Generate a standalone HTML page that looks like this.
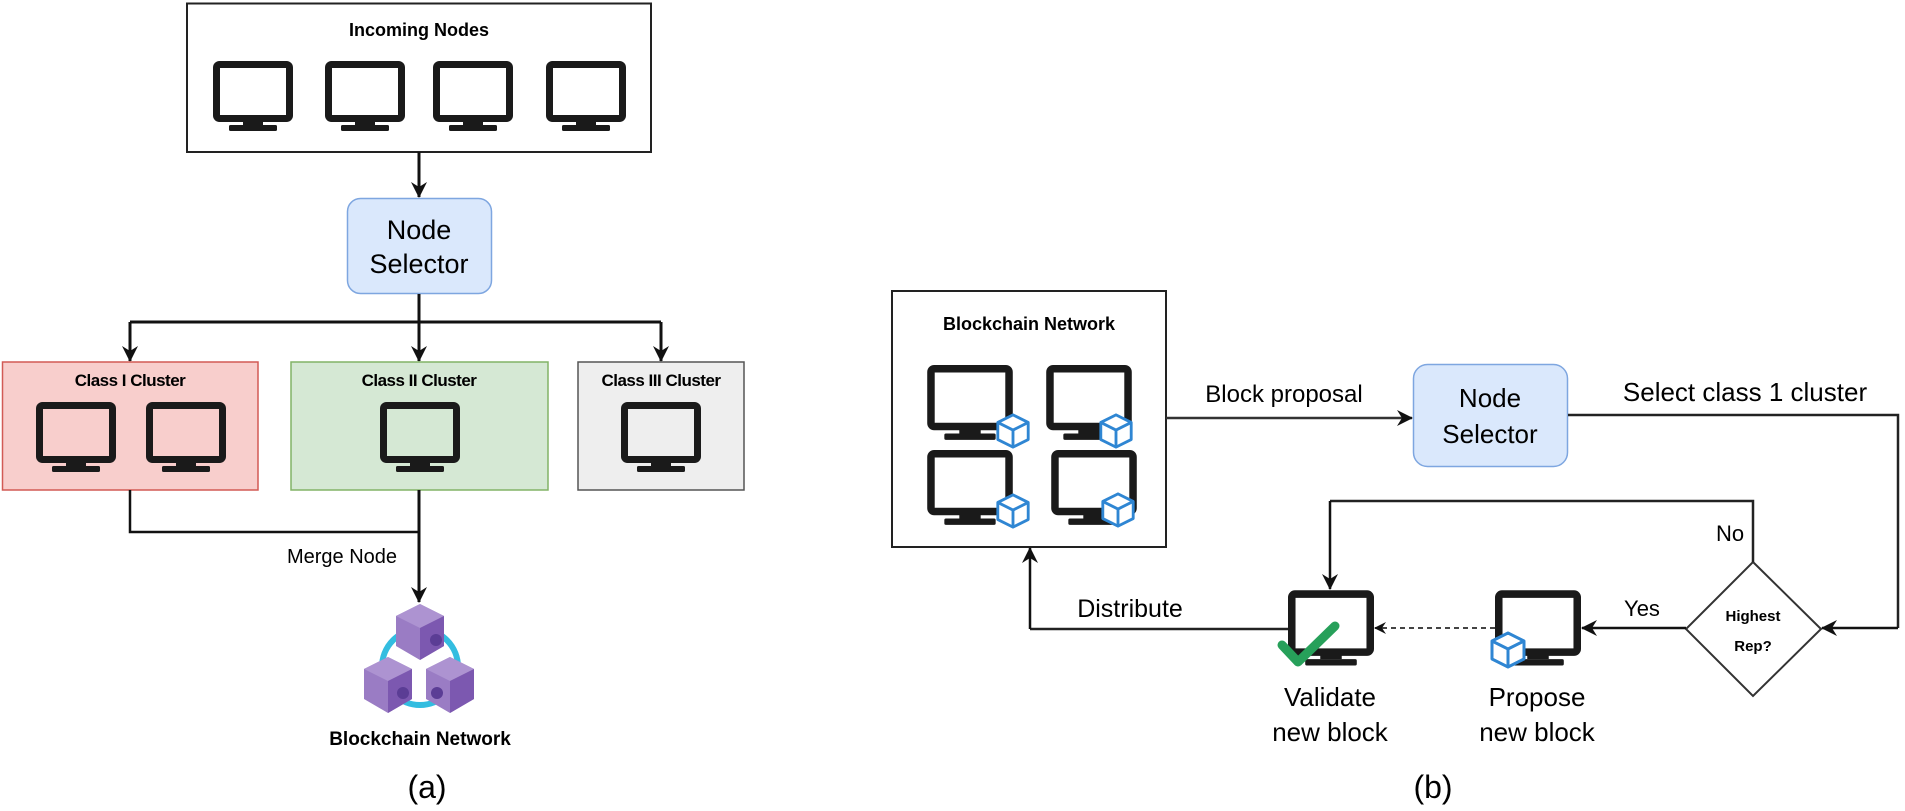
<!DOCTYPE html>
<html><head><meta charset="utf-8"><style>
html,body{margin:0;padding:0;background:#fff;}
svg{display:block;}
text{font-family:"Liberation Sans",sans-serif;}
</style></head><body>
<svg width="1905" height="811" viewBox="0 0 1905 811" xmlns="http://www.w3.org/2000/svg">
<defs>
<symbol id="mon" viewBox="0 0 80 72">
<rect x="3.5" y="3.5" width="73" height="54" rx="3" fill="none" stroke="#1a1a1a" stroke-width="7"/>
<path d="M30 57 H50 V64 H30 Z" fill="#1a1a1a"/>
<rect x="16" y="64" width="48" height="6" rx="1.5" fill="#1a1a1a"/>
</symbol>
<symbol id="cube" viewBox="0 0 40 40">
<path d="M20 3 L36 11 L36 29 L20 37 L4 29 L4 11 Z" fill="#fff" stroke="#2f86d3" stroke-width="3" stroke-linejoin="round"/>
<path d="M4 11 L20 19 L36 11 M20 19 V37" fill="none" stroke="#2f86d3" stroke-width="3" stroke-linejoin="round"/>
</symbol>
<symbol id="pcube" viewBox="0 0 48 56">
<path d="M24 0 L48 12 L48 42 L24 56 L0 42 L0 12 Z" fill="#9a7cc4"/>
<path d="M24 0 L48 12 L24 24 L0 12 Z" fill="#ad93d1"/>
<path d="M24 24 L48 12 L48 42 L24 56 Z" fill="#7c58b0"/>
</symbol>
<marker id="ah" viewBox="0 0 12 12" refX="11" refY="6" markerWidth="12" markerHeight="12" markerUnits="userSpaceOnUse" orient="auto">
<path d="M0 0 L12 6 L0 12 L4 6 Z" fill="#111"/>
</marker>
<marker id="ahb" viewBox="0 0 16 16" refX="15" refY="8" markerWidth="16" markerHeight="16" markerUnits="userSpaceOnUse" orient="auto">
<path d="M0 0 L16 8 L0 16 L5 8 Z" fill="#111"/>
</marker>
</defs>

<!-- ========== (a) ========== -->
<rect x="187" y="3.5" width="464" height="148.5" fill="#fff" stroke="#222" stroke-width="2"/>
<text x="419" y="36" font-size="18" font-weight="bold" text-anchor="middle">Incoming Nodes</text>
<use href="#mon" x="213" y="61" width="80" height="72"/>
<use href="#mon" x="325" y="61" width="80" height="72"/>
<use href="#mon" x="433" y="61" width="80" height="72"/>
<use href="#mon" x="546" y="61" width="80" height="72"/>

<line x1="419" y1="152" x2="419" y2="197" stroke="#111" stroke-width="3" marker-end="url(#ahb)"/>
<rect x="347.5" y="198.5" width="144" height="95" rx="13" fill="#dae8fc" stroke="#7ea6e0" stroke-width="1.5"/>
<text x="419" y="239" font-size="27" text-anchor="middle">Node</text>
<text x="419" y="273" font-size="27" text-anchor="middle">Selector</text>

<path d="M419 294 V322 M130 322 H661" stroke="#111" stroke-width="3" fill="none"/>
<line x1="130" y1="322" x2="130" y2="361" stroke="#111" stroke-width="3" marker-end="url(#ahb)"/>
<line x1="419" y1="322" x2="419" y2="361" stroke="#111" stroke-width="3" marker-end="url(#ahb)"/>
<line x1="661" y1="322" x2="661" y2="361" stroke="#111" stroke-width="3" marker-end="url(#ahb)"/>

<rect x="2.5" y="362" width="255.5" height="128" fill="#f8cecc" stroke="#d25a55" stroke-width="1.5"/>
<text x="130" y="386" font-size="17" font-weight="bold" text-anchor="middle" letter-spacing="-0.5">Class I Cluster</text>
<use href="#mon" x="36" y="402" width="80" height="72"/>
<use href="#mon" x="146" y="402" width="80" height="72"/>

<rect x="291" y="362" width="257" height="128" fill="#d5e8d4" stroke="#82b366" stroke-width="1.5"/>
<text x="419" y="386" font-size="17" font-weight="bold" text-anchor="middle" letter-spacing="-0.5">Class II Cluster</text>
<use href="#mon" x="380" y="402" width="80" height="72"/>

<rect x="578" y="362" width="166" height="128" fill="#eeeeee" stroke="#555" stroke-width="1.5"/>
<text x="661" y="386" font-size="17" font-weight="bold" text-anchor="middle" letter-spacing="-0.5">Class III Cluster</text>
<use href="#mon" x="621" y="402" width="80" height="72"/>

<path d="M130 490 V532 H419" stroke="#111" stroke-width="2.5" fill="none"/>
<line x1="419" y1="490" x2="419" y2="602" stroke="#111" stroke-width="3" marker-end="url(#ahb)"/>
<text x="342" y="563" font-size="20" text-anchor="middle">Merge Node</text>

<circle cx="420" cy="667" r="38" fill="none" stroke="#33bde0" stroke-width="6"/>
<use href="#pcube" x="396" y="604" width="48" height="56"/>
<use href="#pcube" x="364" y="657" width="48" height="56"/>
<use href="#pcube" x="426" y="657" width="48" height="56"/>
<circle cx="436" cy="640" r="6" fill="#5b3d95"/>
<circle cx="403" cy="693" r="6" fill="#5b3d95"/>
<circle cx="437" cy="693" r="6" fill="#5b3d95"/>
<text x="420" y="745" font-size="19" font-weight="bold" text-anchor="middle">Blockchain Network</text>
<text x="427" y="798" font-size="32" text-anchor="middle">(a)</text>

<!-- ========== (b) ========== -->
<rect x="892" y="291" width="274" height="256" fill="#fff" stroke="#222" stroke-width="2"/>
<text x="1029" y="330" font-size="18" font-weight="bold" text-anchor="middle">Blockchain Network</text>
<use href="#mon" x="927" y="365" width="86" height="77"/>
<use href="#mon" x="1046" y="365" width="86" height="77"/>
<use href="#mon" x="927" y="450" width="86" height="77"/>
<use href="#mon" x="1051" y="450" width="86" height="77"/>
<use href="#cube" x="994" y="412" width="38" height="38"/>
<use href="#cube" x="1097" y="412" width="38" height="38"/>
<use href="#cube" x="994" y="492" width="38" height="38"/>
<use href="#cube" x="1099" y="491" width="38" height="38"/>

<line x1="1166" y1="418" x2="1412" y2="418" stroke="#333" stroke-width="2.5" marker-end="url(#ahb)"/>
<text x="1284" y="402" font-size="24" text-anchor="middle">Block proposal</text>

<rect x="1413.5" y="364.5" width="154" height="102" rx="14" fill="#dae8fc" stroke="#7ea6e0" stroke-width="1.5"/>
<text x="1490" y="407" font-size="26" text-anchor="middle">Node</text>
<text x="1490" y="443" font-size="26" text-anchor="middle">Selector</text>

<text x="1745" y="401" font-size="26" text-anchor="middle">Select class 1 cluster</text>
<path d="M1568 415 H1898 V628" stroke="#222" stroke-width="2.5" fill="none"/>
<line x1="1898" y1="628" x2="1822" y2="628" stroke="#111" stroke-width="2.5" marker-end="url(#ahb)"/>

<path d="M1753 562 L1821 629 L1753 696 L1686 629 Z" fill="#fff" stroke="#333" stroke-width="2"/>
<text x="1753" y="621" font-size="15" font-weight="bold" text-anchor="middle">Highest</text>
<text x="1753" y="651" font-size="15" font-weight="bold" text-anchor="middle">Rep?</text>

<path d="M1753 562 V501 H1330" stroke="#222" stroke-width="2.5" fill="none"/>
<line x1="1330" y1="501" x2="1330" y2="589" stroke="#111" stroke-width="2.5" marker-end="url(#ahb)"/>
<text x="1730" y="541" font-size="22" text-anchor="middle">No</text>

<line x1="1686" y1="628" x2="1582" y2="628" stroke="#111" stroke-width="2.5" marker-end="url(#ahb)"/>
<text x="1642" y="616" font-size="22" text-anchor="middle">Yes</text>

<use href="#mon" x="1495" y="590" width="86" height="78"/>
<use href="#cube" x="1488" y="630" width="40" height="40"/>
<line x1="1495" y1="628" x2="1375" y2="628" stroke="#444" stroke-width="2" stroke-dasharray="5,4" marker-end="url(#ah)"/>

<use href="#mon" x="1288" y="590" width="86" height="78"/>
<path d="M1282 645 L1298 662 L1335 626" fill="none" stroke="#27a05a" stroke-width="9" stroke-linecap="round" stroke-linejoin="round"/>

<path d="M1288 629 H1030" stroke="#222" stroke-width="2.5" fill="none"/>
<line x1="1030" y1="629" x2="1030" y2="548" stroke="#111" stroke-width="2.5" marker-end="url(#ahb)"/>
<text x="1130" y="617" font-size="25" text-anchor="middle">Distribute</text>

<text x="1330" y="706" font-size="26" text-anchor="middle">Validate</text>
<text x="1330" y="741" font-size="26" text-anchor="middle">new block</text>
<text x="1537" y="706" font-size="26" text-anchor="middle">Propose</text>
<text x="1537" y="741" font-size="26" text-anchor="middle">new block</text>

<text x="1433" y="798" font-size="32" text-anchor="middle">(b)</text>
</svg>
</body></html>
